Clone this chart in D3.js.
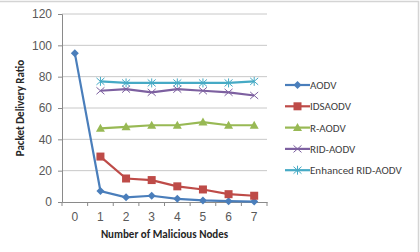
<!DOCTYPE html>
<html>
<head>
<meta charset="utf-8">
<script src="https://cdn.jsdelivr.net/npm/d3@7"></script>
<style>
  body { margin:0; background:#fff; }
  svg { font-family: Calibri, Carlito, "Liberation Sans", Arial, sans-serif; }
</style>
</head>
<body>
<div id="chart-area"></div>
<script>
var nodes = ["0","1","2","3","4","5","6","7"];
var seriesNames = ["AODV","IDSAODV","R-AODV","RID-AODV","Enhanced RID-AODV"];
var aodv     = [95, 7, 3, 4, 2, 1, 0.5, 0.3];
var idsaodv  = [null, 29, 15, 14, 10, 8, 5, 4];
var raodv    = [null, 47, 48, 49, 49, 51, 49, 49];
var ridaodv  = [null, 71, 72, 70, 72, 71, 70, 68];
var enhanced = [null, 77, 76, 76, 76, 76, 76, 77];
var yTicks = [0, 20, 40, 60, 80, 100, 120];

var colors = ["#4a7ebb", "#be4b48", "#98b954", "#7d60a0", "#46aac5"];
var markers = ["diamond", "square", "triangle", "x", "star"];
var allSeries = [aodv, idsaodv, raodv, ridaodv, enhanced];

var W = 420, H = 252;
var margin = { left:62, right:153, top:14, bottom:50 };
var width = W - margin.left - margin.right;
var height = H - margin.top - margin.bottom;

var svg = d3.select("#chart-area")
    .append("svg")
    .attr("width", W)
    .attr("height", H);

// outer frame (only top and right edges show)
svg.append("path")
    .attr("d", "M0,1.5H418.5V252")
    .attr("fill", "none")
    .attr("stroke", "#d4d4d4")
    .attr("stroke-width", 1.5);

var g = svg.append("g")
    .attr("transform", "translate(" + margin.left + "," + margin.top + ")");

var x = d3.scaleBand().domain(nodes).range([0, width]);
var y = d3.scaleLinear().domain([0, 120]).range([height, 0]);

// gridlines
g.selectAll(".grid").data(yTicks.filter(function(d){ return d > 0; }))
  .enter().append("line")
    .attr("x1", 0).attr("x2", width)
    .attr("y1", function(d){ return y(d); })
    .attr("y2", function(d){ return y(d); })
    .attr("stroke", "#c8c8c8")
    .attr("stroke-width", 1);

// y axis
var yAxis = g.append("g")
    .call(d3.axisLeft(y).tickValues(yTicks).tickSize(4).tickPadding(6));
yAxis.select(".domain").attr("stroke", "#8a8a8a");
yAxis.selectAll(".tick line").attr("stroke", "#8a8a8a");
yAxis.selectAll("text").attr("fill", "#595959").attr("font-size", "12px");

// x axis
var xAxis = g.append("g")
    .attr("transform", "translate(0," + height + ")")
    .call(d3.axisBottom(x).tickSize(0).tickPadding(10));
xAxis.select(".domain").attr("stroke", "#8a8a8a");
xAxis.selectAll("text").attr("fill", "#595959").attr("font-size", "12px");
xAxis.selectAll(".sep").data(d3.range(nodes.length + 1))
  .enter().append("line")
    .attr("x1", function(i){ return i * x.step(); })
    .attr("x2", function(i){ return i * x.step(); })
    .attr("y1", 0).attr("y2", 4)
    .attr("stroke", "#8a8a8a");

// axis titles
svg.append("text")
    .attr("transform", "translate(24," + (margin.top + height/2) + ") rotate(-90)")
    .attr("text-anchor", "middle")
    .attr("font-size", "11px")
    .attr("font-weight", "bold")
    .attr("fill", "#262626")
    .text("Packet Delivery Ratio");

svg.append("text")
    .attr("x", margin.left + width/2)
    .attr("y", 238)
    .attr("text-anchor", "middle")
    .attr("font-size", "11px")
    .attr("font-weight", "bold")
    .attr("fill", "#262626")
    .text("Number of Malicious Nodes");

function drawMarker(sel, type, color) {
  if (type == "diamond") {
    sel.append("path").attr("d", "M0,-4L4,0L0,4L-4,0Z").attr("fill", color);
  } else if (type == "square") {
    sel.append("rect").attr("x", -4).attr("y", -4).attr("width", 8).attr("height", 8).attr("fill", color);
  } else if (type == "triangle") {
    sel.append("path").attr("d", "M0,-4.5L4.5,3.5L-4.5,3.5Z").attr("fill", color);
  } else if (type == "x") {
    sel.append("path").attr("d", "M-4,-3.5L4,3.5M-4,3.5L4,-3.5")
      .attr("stroke", color).attr("stroke-width", 1).attr("fill", "none");
  } else {
    sel.append("path").attr("d", "M-4,-3.5L4,3.5M-4,3.5L4,-3.5M0,-4.5V4.5")
      .attr("stroke", color).attr("stroke-width", 1).attr("fill", "none");
  }
}

var line = d3.line()
    .defined(function(d){ return d != null; })
    .x(function(d, i){ return x(nodes[i]) + x.bandwidth()/2; })
    .y(function(d){ return y(d); });

allSeries.forEach(function(data, s){
  g.append("path")
    .datum(data)
    .attr("d", line)
    .attr("fill", "none")
    .attr("stroke", colors[s])
    .attr("stroke-width", 2.2);

  data.forEach(function(v, i){
    if (v == null) return;
    var m = g.append("g")
      .attr("transform", "translate(" + (x(nodes[i]) + x.bandwidth()/2) + "," + y(v) + ")");
    drawMarker(m, markers[s], colors[s]);
  });
});

// legend
var legend = svg.append("g").attr("transform", "translate(285,85)");
seriesNames.forEach(function(name, s){
  var row = legend.append("g").attr("transform", "translate(0," + (s * 21.3) + ")");
  row.append("line")
    .attr("x1", 0).attr("x2", 25)
    .attr("stroke", colors[s]).attr("stroke-width", 2.2);
  drawMarker(row.append("g").attr("transform", "translate(12.5,0)"), markers[s], colors[s]);
  row.append("text")
    .attr("x", 25)
    .attr("y", 4)
    .attr("font-size", "11px")
    .attr("fill", "#404040")
    .text(name);
});
</script>
</body>
</html>
